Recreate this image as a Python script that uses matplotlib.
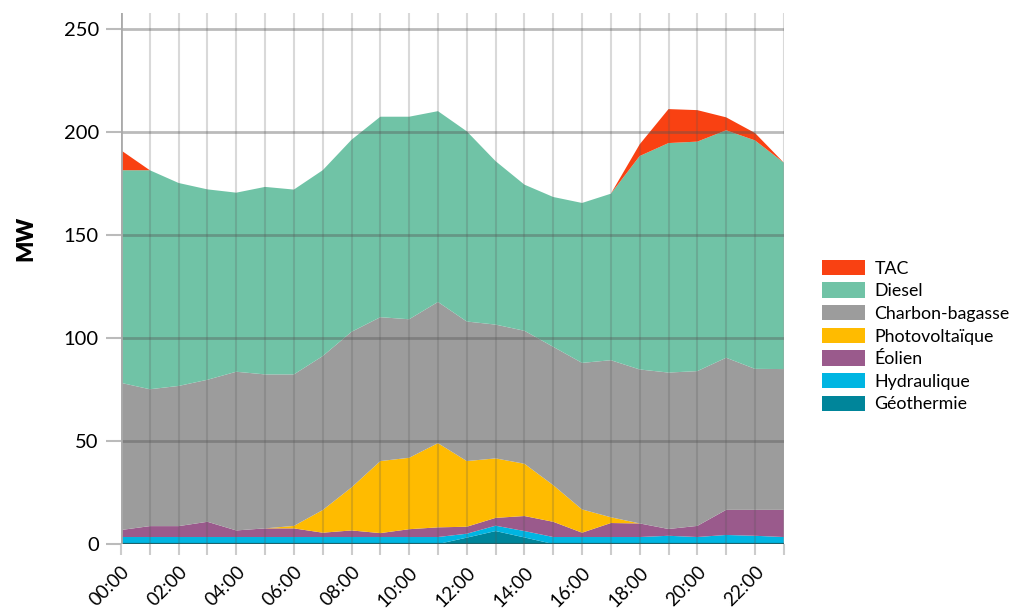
import numpy as np
import matplotlib.pyplot as plt
from matplotlib.patches import Patch

plt.rcParams['font.family'] = ['Lato', 'DejaVu Sans']

# Hourly production by source (MW), 00:00 -> 23:00
hours = np.arange(24)
hour_labels = [f"{h:02d}:00" if h % 2 == 0 else "" for h in hours]

geothermie = [0, 0, 0, 0, 0, 0, 0, 0, 0, 0, 0, 0,
              3.1, 6.3, 3.2, 0, 0, 0, 0, 0, 0, 0, 0, 0]
hydraulique = [3.4, 3.4, 3.4, 3.4, 3.4, 3.4, 3.4, 3.4, 3.4, 3.4, 3.4, 3.4,
               1.9, 2.6, 3.1, 3.4, 3.4, 3.4, 3.4, 4.0, 3.4, 4.4, 4.0, 3.4]
eolien = [3.4, 5.3, 5.3, 7.4, 3.2, 4.2, 4.2, 2.1, 3.2, 1.9, 3.8, 4.7,
          3.4, 3.8, 7.3, 7.4, 2.1, 6.8, 6.6, 3.3, 5.4, 12.2, 12.6, 13.2]
photovoltaique = [0, 0, 0, 0, 0, 0, 1.2, 11.0, 20.9, 35.0, 34.7, 40.9,
                  31.9, 28.9, 25.4, 17.8, 11.3, 2.8, 0, 0, 0, 0, 0, 0]
charbon = [71.5, 66.5, 68.1, 69.0, 77.1, 74.8, 73.6, 74.8, 75.6, 69.9, 67.3, 68.6,
           67.8, 65.0, 64.6, 67.2, 71.2, 76.3, 74.8, 76.0, 75.2, 73.9, 68.5, 68.4]
diesel = [103.3, 106.4, 98.6, 92.5, 87.0, 91.1, 89.8, 90.3, 93.3, 97.4, 98.4, 92.7,
          92.4, 79.4, 71.0, 72.8, 77.7, 80.9, 103.7, 111.5, 111.5, 110.5, 111.0, 100.3]
tac = [9.7, 0, 0, 0, 0, 0, 0, 0, 0, 0, 0, 0,
       0, 0, 0, 0, 0, 0, 5.7, 16.5, 15.3, 6.3, 3.6, 0]

names = ["Géothermie", "Hydraulique", "Éolien", "Photovoltaïque",
         "Charbon-bagasse", "Diesel", "TAC"]
colors = ["#00859A", "#00B5E2", "#9A5A8C", "#FFBB00",
          "#9C9C9C", "#70C3A6", "#F94112"]
series = [geothermie, hydraulique, eolien, photovoltaique, charbon, diesel, tac]

fig = plt.figure(figsize=(10.34, 6.09), dpi=100)
ax = fig.add_axes([0.117, 0.1067, 0.641, 0.872])

ax.stackplot(hours, *series, colors=colors, linewidth=0, zorder=1)
ax.axhline(0, color="#006B78", linewidth=1.6, zorder=2)

ax.set_xlim(0, 23)
ax.set_ylim(0, 258)
ax.set_xticks(hours)
ax.set_xticklabels(hour_labels, rotation=45, ha='right', rotation_mode='anchor', fontsize=13.5)
ax.set_yticks(np.arange(0, 251, 50))
ax.tick_params(axis='y', length=11, width=1.5, color="#bbbbbb", labelsize=14.5, pad=5)
ax.tick_params(axis='x', length=8, width=1.5, color="#cccccc", pad=6)

# grid on top of the areas
ax.set_axisbelow(False)
ax.grid(axis='y', color="#555555", alpha=0.4, linewidth=2, zorder=3)
ax.grid(axis='x', color="#555555", alpha=0.22, linewidth=1.5, zorder=3)
for s in ax.spines.values():
    s.set_visible(False)
ax.axvline(0, color="#aaaaaa", linewidth=2, zorder=3)

ax.set_ylabel("MW", fontsize=16, fontweight='heavy')
ax.yaxis.set_label_coords(-0.128, 0.575)

handles = [Patch(facecolor=c, edgecolor='none', label=n)
           for n, c in zip(names[::-1], colors[::-1])]
fig.legend(handles=handles, loc='upper left', bbox_to_anchor=(0.788, 0.585),
           frameon=False, fontsize=12.8, handlelength=2.45, handleheight=0.95,
           labelspacing=0.33, handletextpad=0.5, borderaxespad=0)

plt.savefig("out.png", dpi=100)
